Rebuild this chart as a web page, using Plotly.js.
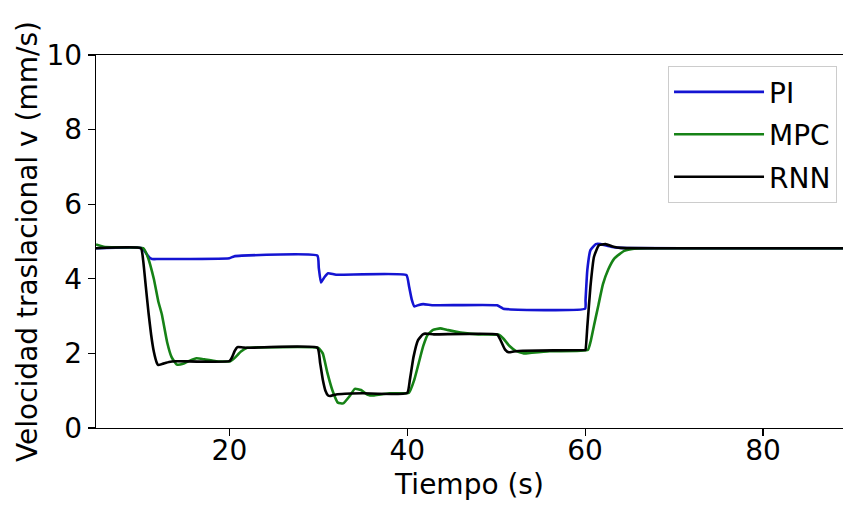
<!DOCTYPE html>
<html>
<head>
<meta charset="utf-8">
<script src="https://cdn.plot.ly/plotly-3.0.1.min.js"></script>
<style>html,body{margin:0;padding:0;background:#fff;}#chart{width:844px;height:506px;}</style>
</head>
<body>
<div id="chart"></div>
<script>
// PI controller
const tPI = [5, 10.2, 10.6, 11.0, 11.3, 12, 20.0, 20.5, 21.4, 29.9, 30.05, 30.3, 30.7, 31.1, 32, 39.9, 40.2, 40.5, 40.8, 41.3, 41.8, 43, 50.1, 50.8, 60.0, 60.05, 60.25, 60.6, 61.2, 61.75, 62.9, 64, 89];
const vPI = [4.82, 4.82, 4.7, 4.57, 4.53, 4.53, 4.55, 4.6, 4.62, 4.62, 4.3, 3.9, 4.05, 4.15, 4.11, 4.10, 3.8, 3.45, 3.26, 3.30, 3.32, 3.29, 3.29, 3.20, 3.20, 3.43, 4.24, 4.77, 4.93, 4.93, 4.86, 4.83, 4.82];

// MPC controller
const tMPC = [5, 6, 10.3, 10.8, 11.5, 12.0, 12.4, 13.0, 13.5, 14.1, 14.8, 15.5, 16.3, 17.2, 18.5, 20.1, 20.6, 21.3, 22.0, 23, 30.0, 30.5, 31.0, 31.6, 32.2, 32.8, 33.5, 34.1, 34.8, 35.5, 36.2, 37, 38, 40.2, 40.8, 41.3, 41.8, 42.3, 42.9, 43.7, 44.5, 46, 48, 50.3, 50.8, 51.5, 52.2, 53.1, 54, 56, 60.3, 60.6, 61.0, 61.5, 62.0, 62.6, 63.3, 64.4, 65.5, 67, 89];
const vMPC = [4.92, 4.85, 4.82, 4.6, 4.0, 3.4, 3.05, 2.3, 1.9, 1.70, 1.72, 1.80, 1.87, 1.84, 1.79, 1.79, 1.88, 2.05, 2.15, 2.16, 2.15, 2.0, 1.5, 1.0, 0.68, 0.66, 0.85, 1.05, 1.02, 0.9, 0.87, 0.9, 0.93, 0.95, 1.3, 1.75, 2.2, 2.5, 2.63, 2.67, 2.63, 2.56, 2.51, 2.5, 2.4, 2.2, 2.07, 2.0, 2.02, 2.06, 2.09, 2.3, 2.75, 3.3, 3.85, 4.25, 4.55, 4.75, 4.81, 4.82, 4.82];

// RNN controller
const tRNN = [5, 10.05, 10.3, 10.6, 10.9, 11.2, 11.5, 11.85, 12.0, 12.5, 13.2, 14, 20.0, 20.3, 20.6, 20.9, 21.5, 22, 29.9, 30.2, 30.5, 30.8, 31.1, 31.4, 32, 33, 35, 40.0, 40.3, 40.7, 41.2, 41.7, 42.0, 43, 50.1, 50.5, 51.0, 51.4, 52, 53, 60.0, 60.05, 60.25, 60.6, 61.0, 61.55, 62.3, 63.2, 64, 89];
const vRNN = [4.82, 4.82, 4.5, 3.8, 3.1, 2.5, 2.05, 1.74, 1.69, 1.72, 1.77, 1.79, 1.79, 1.9, 2.07, 2.17, 2.16, 2.15, 2.15, 1.75, 1.3, 1.0, 0.87, 0.86, 0.9, 0.92, 0.93, 0.94, 1.3, 1.9, 2.35, 2.5, 2.53, 2.51, 2.51, 2.35, 2.1, 2.03, 2.05, 2.07, 2.09, 2.09, 2.72, 3.79, 4.59, 4.9, 4.93, 4.86, 4.83, 4.82];

const seriesNames = ['PI', 'MPC', 'RNN'];
const xTicks = [20, 40, 60, 80];
const yTicks = [0, 2, 4, 6, 8, 10];

const font = {family: 'DejaVu Sans, sans-serif', color: '#000'};
const fs = 28;

const traces = [
  {x: tPI, y: vPI, name: seriesNames[0], line: {color: '#1414d2', width: 2.6, shape: 'spline', smoothing: 0.4}},
  {x: tMPC, y: vMPC, name: seriesNames[1], line: {color: '#168216', width: 2.6, shape: 'spline', smoothing: 0.4}},
  {x: tRNN, y: vRNN, name: seriesNames[2], line: {color: '#000000', width: 2.6, shape: 'spline', smoothing: 0.4}}
].map((t, i) => Object.assign({type: 'scatter', mode: 'lines', legendgroup: 'g' + i, hoverinfo: 'skip'}, t));

const layout = {
  width: 844, height: 506,
  margin: {l: 96, r: 1, t: 55, b: 78},
  paper_bgcolor: '#fff', plot_bgcolor: '#fff',
  font: Object.assign({size: fs}, font),
  showlegend: true,
  legend: {
    x: 0.992, y: 0.97, xanchor: 'right', yanchor: 'top',
    bgcolor: 'rgba(255,255,255,0.9)', bordercolor: '#cccccc', borderwidth: 1,
    font: Object.assign({size: fs}, font),
    traceorder: 'grouped', tracegroupgap: 3,
    itemwidth: 90
  },
  xaxis: {
    range: [5, 89], tickvals: xTicks, ticktext: xTicks.map(String),
    showgrid: false, zeroline: false,
    showline: true, linecolor: '#000', linewidth: 1.2, mirror: true,
    ticks: 'outside', ticklen: 7, tickwidth: 1.2, tickcolor: '#000',
    ticklabelstandoff: -10,
    tickfont: Object.assign({size: fs}, font),
    title: {text: 'Tiempo (s)', font: Object.assign({size: fs}, font), standoff: 8}
  },
  yaxis: {
    range: [0, 10], tickvals: yTicks, ticktext: yTicks.map(String),
    showgrid: false, zeroline: false,
    showline: true, linecolor: '#000', linewidth: 1.2,
    ticks: 'outside', ticklen: 7, tickwidth: 1.2, tickcolor: '#000',
    tickfont: Object.assign({size: fs}, font),
    title: {text: 'Velocidad traslacional v (mm/s)', font: Object.assign({size: fs}, font), standoff: 0}
  }
};

Plotly.newPlot('chart', traces, layout, {displayModeBar: false, staticPlot: true});
</script>
</body>
</html>
